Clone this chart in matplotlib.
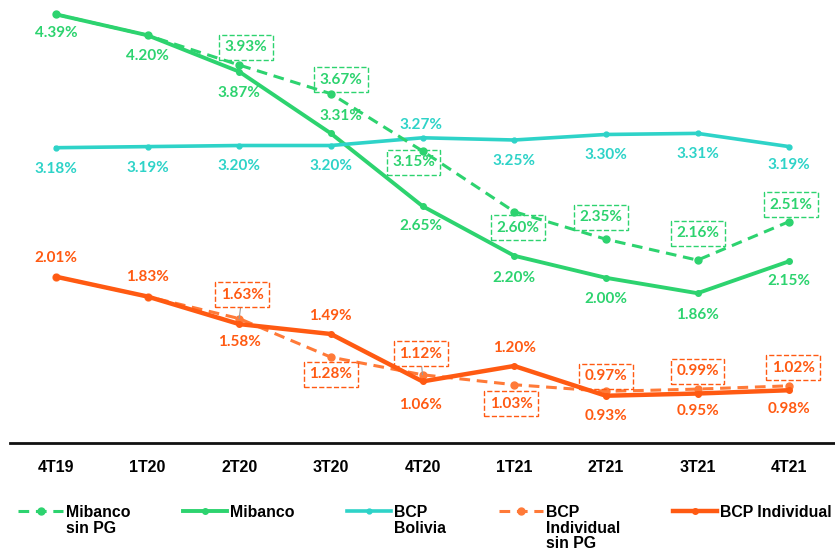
import numpy as np
import matplotlib.pyplot as plt

# Data
quarters = ['4T19', '1T20', '2T20', '3T20', '4T20', '1T21', '2T21', '3T21', '4T21']
mibanco = [4.39, 4.20, 3.87, 3.31, 2.65, 2.20, 2.00, 1.86, 2.15]
mibanco_sin_pg = [4.39, 4.20, 3.93, 3.67, 3.15, 2.60, 2.35, 2.16, 2.51]
bcp_bolivia = [3.18, 3.19, 3.20, 3.20, 3.27, 3.25, 3.30, 3.31, 3.19]
bcp_ind = [2.01, 1.83, 1.58, 1.49, 1.06, 1.20, 0.93, 0.95, 0.98]
bcp_ind_sin_pg = [2.01, 1.83, 1.63, 1.28, 1.12, 1.03, 0.97, 0.99, 1.02]

GREEN = '#2DD36F'
CYAN = '#2ED3C8'
ORANGE = '#FF5A12'
ORANGE_L = '#FF7A38'
LBL_FONT = ['Lato', 'DejaVu Sans']

fig = plt.figure(figsize=(8.35, 5.56), dpi=100)
ax = fig.add_axes([0.012, 0.203, 0.988, 0.797])
x = np.arange(len(quarters))

ax.plot(x, mibanco_sin_pg, color=GREEN, lw=2.2, ls=(0, (3.5, 2.2)), marker='o', ms=5, zorder=3,
        label='Mibanco\nsin PG')
ax.plot(x, mibanco, color=GREEN, lw=2.8, marker='o', ms=4, zorder=2, label='Mibanco')
ax.plot(x, bcp_bolivia, color=CYAN, lw=2.6, marker='o', ms=3.5, zorder=2, label='BCP\nBolivia')
ax.plot(x, bcp_ind_sin_pg, color=ORANGE_L, lw=2.2, ls=(0, (3.5, 2.2)), marker='o', ms=5, zorder=2,
        label='BCP\nIndividual\nsin PG')
ax.plot(x, bcp_ind, color=ORANGE, lw=3.2, marker='o', ms=4, zorder=3, label='BCP Individual')


def put_labels(vals, offs, color, boxed=False, leaders=()):
    for i, (v, o) in enumerate(zip(vals, offs)):
        if o is None:
            continue
        kw = {}
        if boxed:
            kw['bbox'] = dict(boxstyle='square,pad=0.36', fc='none', ec=color, ls='--', lw=1.0)
        if i in leaders:
            kw['arrowprops'] = dict(arrowstyle='-', color='#999999', lw=0.8, shrinkA=0, shrinkB=0)
        ax.annotate(f'{v:.2f}%', (x[i], v), xytext=o, textcoords='offset pixels',
                    ha='center', va='center', color=color, fontsize=11,
                    fontweight='bold', family=LBL_FONT, zorder=5, **kw)


put_labels(mibanco, [(0, -19), (0, -21), (0, -21), (10, 17), (-2, -20), (0, -22), (0, -21), (0, -22), (0, -20)], GREEN)
put_labels(mibanco_sin_pg, [None, None, (7, 18), (10, 14), (-9, -11), (4, -16), (-5, 22), (0, 27), (2, 17)], GREEN, boxed=True)
put_labels(bcp_bolivia, [(0, -21), (0, -21), (0, -20), (0, -20), (-2, 13), (0, -21), (0, -21), (0, -21), (0, -18)], CYAN)
put_labels(bcp_ind, [(0, 19), (0, 20), (0, -18), (0, 18), (-2, -24), (0, 18), (0, -20), (0, -17), (0, -19)], ORANGE)
put_labels(bcp_ind_sin_pg, [None, None, (3, 24), (0, -17), (-2, 21), (-3, -19), (0, 15), (0, 18), (4, 18)], ORANGE,
           boxed=True, leaders=(2, 4))

ax.set_xlim(-0.5, 8.5)
ax.set_ylim(0.50, 4.52)
ax.set_xticks(x)
ax.set_xticklabels(quarters, fontweight='bold', fontsize=11.5, family=['Liberation Sans', 'DejaVu Sans'])
ax.tick_params(axis='x', length=0, pad=12)
ax.set_yticks([])
for s in ['top', 'right', 'left']:
    ax.spines[s].set_visible(False)
ax.spines['bottom'].set_linewidth(2)
ax.spines['bottom'].set_color('#111111')

leg = fig.legend(loc='upper left', bbox_to_anchor=(0.022, 1 - 505 / 556), ncol=5, frameon=False,
                 prop={'family': ['Liberation Sans', 'DejaVu Sans'], 'weight': 'bold', 'size': 11.4},
                 handlelength=2.8, handletextpad=0.2, columnspacing=3.3, borderaxespad=0, borderpad=0,
                 labelspacing=0)
leg._legend_handle_box.align = 'top'
for col in leg._legend_handle_box.get_children():
    for item in col.get_children():
        item.align = 'top'
for t in leg.get_texts():
    t.set_linespacing(1.05)

fig.savefig('out.png', dpi=100)
